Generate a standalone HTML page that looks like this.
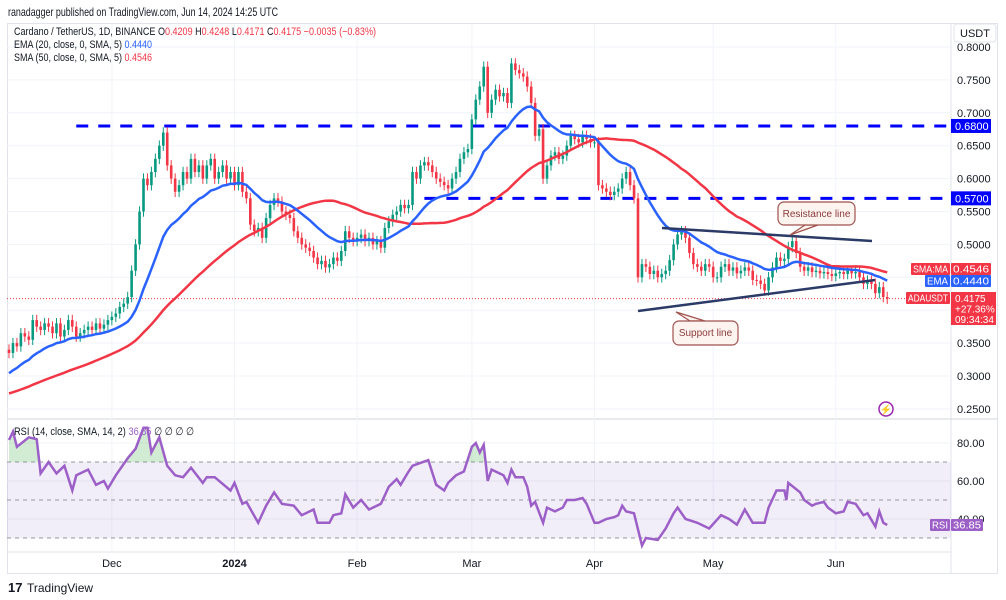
<!DOCTYPE html>
<html><head><meta charset="utf-8"><style>
html,body{margin:0;padding:0;background:#fff;width:1006px;height:600px;overflow:hidden}
svg{display:block;font-family:"Liberation Sans",sans-serif}
</style></head><body>
<svg id="chart" width="1006" height="600" viewBox="0 0 1006 600">
<text x="8" y="16" font-size="12" fill="#131722" textLength="270" lengthAdjust="spacingAndGlyphs">ranadagger published on TradingView.com, Jun 14, 2024 14:25 UTC</text>
<rect x="7.5" y="23.5" width="990" height="550" fill="none" stroke="#e0e3eb"/>
<line x1="951" y1="23" x2="951" y2="573" stroke="#e0e3eb"/>
<line x1="7" y1="419" x2="997" y2="419" stroke="#d1d4dc"/>
<line x1="7" y1="552" x2="951" y2="552" stroke="#e0e3eb"/>
<g id="grid"></g>
<g id="rsiBand"></g>
<g id="levels"></g>
<g id="candles"></g>
<g id="mas"></g>
<g id="rsiG"></g>
<g id="axes"></g>
<line x1="662" y1="228" x2="872" y2="241" stroke="#2b3a67" stroke-width="2.5"/>
<line x1="638" y1="311" x2="875" y2="280" stroke="#2b3a67" stroke-width="2.5"/>
<g>
<path d="M805 225 L790 235 L818 225 Z" fill="#fdf3ef" stroke="#a0524d" stroke-width="1.2"/>
<rect x="778" y="202" width="77" height="23" rx="6" fill="#fdf3ef" stroke="#a0524d" stroke-width="1.2"/>
<text x="816.5" y="217" font-size="10" fill="#8b3a3a" text-anchor="middle">Resistance line</text>
</g>
<g>
<path d="M690 321 L676 312 L705 321 Z" fill="#fdf3ef" stroke="#a0524d" stroke-width="1.2"/>
<rect x="673" y="321" width="65" height="24" rx="6" fill="#fdf3ef" stroke="#a0524d" stroke-width="1.2"/>
<text x="705.5" y="336" font-size="10" fill="#8b3a3a" text-anchor="middle">Support line</text>
</g>
<g font-size="11">
<text x="14" y="35" fill="#131722" textLength="362" lengthAdjust="spacingAndGlyphs">Cardano / TetherUS, 1D, BINANCE <tspan fill="#131722">O</tspan><tspan fill="#f23645">0.4209</tspan> <tspan fill="#131722">H</tspan><tspan fill="#f23645">0.4248</tspan> <tspan fill="#131722">L</tspan><tspan fill="#f23645">0.4171</tspan> <tspan fill="#131722">C</tspan><tspan fill="#f23645">0.4175 −0.0035 (−0.83%)</tspan></text>
<text x="14" y="48" fill="#131722" textLength="138" lengthAdjust="spacingAndGlyphs">EMA (20, close, 0, SMA, 5) <tspan fill="#2962ff">0.4440</tspan></text>
<text x="14" y="61" fill="#131722" textLength="138" lengthAdjust="spacingAndGlyphs">SMA (50, close, 0, SMA, 5) <tspan fill="#f23645">0.4546</tspan></text>
</g>
<text x="14" y="435" font-size="11" fill="#131722" textLength="180" lengthAdjust="spacingAndGlyphs">RSI (14, close, SMA, 14, 2) <tspan fill="#9c5fc7">36.85</tspan> ∅ ∅ ∅ ∅</text>
<g>
<rect x="954" y="24" width="42" height="18" rx="3" fill="#fff" stroke="#e0e3eb"/>
<text x="975" y="37" font-size="11" fill="#131722" text-anchor="middle">USDT</text>
</g>
<g><circle cx="886" cy="409" r="7" fill="none" stroke="#9c27b0" stroke-width="1.5"/><text x="886" y="413" font-size="10" fill="#9c27b0" text-anchor="middle">⚡</text></g>
<g><text x="8" y="592" font-size="13" font-weight="bold" fill="#131722">17</text><text x="27" y="592" font-size="12" fill="#131722">TradingView</text></g>
</svg>
<script>
// ===== data =====
const preCloses=[0.25,0.248,0.252,0.255,0.25,0.248,0.246,0.25,0.252,0.255,0.26,0.262,0.26,0.258,0.26,0.262,0.258,0.255,0.26,0.262,0.258,0.255,0.25,0.252,0.255,0.256,0.254,0.255,0.258,0.26,0.262,0.265,0.27,0.268,0.275,0.285,0.29,0.29,0.288,0.295,0.295,0.30,0.305,0.31,0.305,0.31,0.32,0.325,0.33,0.34];
const closes=[0.335,0.35,0.345,0.365,0.36,0.355,0.385,0.375,0.37,0.38,
0.375,0.365,0.38,0.36,0.37,0.385,0.375,0.36,0.365,0.37,
0.375,0.37,0.38,0.372,0.378,0.385,0.39,0.395,0.405,0.41,
0.42,0.46,0.5,0.55,0.60,0.59,0.61,0.63,0.65,0.67,
0.62,0.60,0.58,0.59,0.61,0.60,0.63,0.61,0.62,0.60,
0.62,0.63,0.60,0.61,0.62,0.60,0.61,0.59,0.61,0.58,
0.57,0.53,0.52,0.525,0.51,0.54,0.56,0.57,0.565,0.55,
0.545,0.54,0.52,0.51,0.50,0.495,0.49,0.48,0.47,0.475,
0.465,0.47,0.48,0.475,0.49,0.52,0.51,0.505,0.51,0.515,
0.505,0.51,0.50,0.505,0.495,0.525,0.535,0.545,0.55,0.56,
0.555,0.56,0.61,0.60,0.62,0.625,0.62,0.61,0.60,0.595,
0.59,0.585,0.60,0.61,0.63,0.64,0.645,0.69,0.72,0.74,
0.77,0.70,0.72,0.735,0.725,0.73,0.715,0.775,0.765,0.76,
0.755,0.74,0.715,0.665,0.675,0.60,0.62,0.635,0.64,0.63,
0.635,0.65,0.665,0.66,0.655,0.665,0.66,0.655,0.655,0.59,
0.585,0.58,0.575,0.58,0.585,0.60,0.61,0.59,0.57,0.45,
0.47,0.466,0.455,0.46,0.45,0.455,0.46,0.476,0.50,0.515,
0.52,0.51,0.487,0.47,0.466,0.46,0.47,0.466,0.45,0.45,
0.466,0.47,0.46,0.465,0.456,0.46,0.465,0.46,0.446,0.445,
0.44,0.43,0.45,0.465,0.48,0.475,0.478,0.496,0.505,0.487,
0.466,0.46,0.465,0.458,0.46,0.456,0.458,0.455,0.452,0.456,
0.458,0.455,0.46,0.456,0.458,0.45,0.44,0.445,0.44,0.426,
0.435,0.42,0.4175];
const rsiDay=[0,1,2,5,7,8,10,12,14,16,17,20,22,24,25,27,30,32,34,35,36,38,40,42,44,46,49,50,52,56,57,59,60,63,65,67,69,72,74,77,78,81,82,84,85,87,89,91,94,96,98,99,101,102,106,108,110,111,113,115,117,118,119,120,121,122,124,125,126,127,128,130,131,132,133,135,136,138,140,141,143,145,146,148,149,151,153,154,155,156,158,160,161,164,166,168,169,171,174,177,180,182,184,186,188,191,192,194,196,196.5,197,200,201,203,204,206,207,209,211,212,214,216,217,219,220,221,222];
const rsiVals=[81.6,86,78,83,82,64,70,64,68,55,63,66,58,60,56,63,72,77,88,88,75,83,68,63,62,67,59,62,62,55,59,48,49,38,47,54,48,47,42,45,38,38,42,43,53,46,50,45,48,57,61,58,65,68,71,58,55,59,63,65,78,80,75,79,60,66,64,63,59,66,62,62,57,47,49,38,46,44,46,50,50,51,48,38,38,40,41,42,47,44,43,26,30,29,35,43,46,40,38,35,42,40,37,45,38,38,46,55,55,50,59,54,50,47,48,49,46,43,44,49,48,42,43,36,44,38,36.85];
const priceTicks=[0.80,0.75,0.70,0.65,0.60,0.55,0.50,0.35,0.30,0.25];
const rsiTicks=[80,60,40];
const monthLabels=["Dec","2024","Feb","Mar","Apr","May","Jun"];
const monthDays=[26,57,88,117,148,178,209];
const hLevels=[0.68,0.57];
const hLevelStart=[17,105];

// ===== scales =====
const X0=9, DX=3.956;
const xDay=i=>X0+i*DX;
const yP=p=>47+(0.8-p)*658;
const yR=v=>443+(80-v)*1.9;
const NS="http://www.w3.org/2000/svg";
function mk(tag,attrs,parent){const e=document.createElementNS(NS,tag);for(const k in attrs)e.setAttribute(k,attrs[k]);parent.appendChild(e);return e;}
const grid=document.getElementById('grid');
for(let v=0.25;v<=0.801;v+=0.05){const l=mk('line',{x1:7,x2:951,y1:yP(v),y2:yP(v),stroke:'#f0f3fa'},grid);

}
[80,60,40].forEach(v=>{const l=mk('line',{x1:7,x2:951,y1:yR(v),y2:yR(v),stroke:'#f0f3fa'},grid);

});
monthDays.forEach(d=>{const l=mk('line',{x1:xDay(d),x2:xDay(d),y1:24,y2:552,stroke:'#f0f3fa'},grid);

});

const band=document.getElementById('rsiBand');
const br=mk('rect',{x:7,y:yR(70),width:944,height:yR(30)-yR(70),fill:'#7e57c2','fill-opacity':0.1},band);


[70,50,30].forEach(v=>{const l=mk('line',{x1:7,x2:951,y1:yR(v),y2:yR(v),stroke:'#9598a1','stroke-dasharray':'4 4'},band);

});

const lv=document.getElementById('levels');
hLevels.forEach((p,k)=>{const l=mk('line',{x1:xDay(hLevelStart[k]),x2:951,y1:yP(p),y2:yP(p),stroke:'#0000ff','stroke-width':3,'stroke-dasharray':'12 10'},lv);


const r=mk('rect',{x:951,y:yP(p)-7,width:40,height:14,fill:'#0000ff'},lv);


const t=mk('text',{x:955,y:yP(p)+4,'font-size':11,fill:'#fff'},lv);t.textContent=p.toFixed(4);

});
const cl=mk('line',{x1:7,x2:951,y1:yP(0.4175),y2:yP(0.4175),stroke:'#f23645','stroke-dasharray':'1 2'},lv);



const cg=document.getElementById('candles');
closes.forEach((c,i)=>{const o=i===0?preCloses[preCloses.length-1]:closes[i-1];
const up=c>=o,col=up?'#089981':'#f23645',x=xDay(i);
const hi=Math.max(o,c)+0.008,lo=Math.min(o,c)-0.008;
const w=mk('line',{x1:x,x2:x,y1:yP(hi),y2:yP(lo),stroke:col,'stroke-width':1},cg);


const top=yP(Math.max(o,c)),h=Math.max(1,yP(Math.min(o,c))-top);
const b=mk('rect',{x:x-1.3,y:top,width:2.6,height:h,fill:col},cg);

});

const all=preCloses.concat(closes);const P=preCloses.length;
let ema=all.slice(0,20).reduce((a,b)=>a+b,0)/20;const emaArr=[];const k=2/21;
for(let j=20;j<all.length;j++){ema=all[j]*k+ema*(1-k);if(j>=P)emaArr.push(ema);}
const smaArr=[];for(let j=P;j<all.length;j++){let s=0;for(let q=j-49;q<=j;q++)s+=all[q];smaArr.push(s/50);}
const mg=document.getElementById('mas');
const pth=arr=>arr.map((v,i)=>(i?'L':'M')+xDay(i).toFixed(1)+' '+yP(v).toFixed(1)).join(' ');
const sm=mk('path',{d:pth(smaArr),fill:'none',stroke:'#f23645','stroke-width':2.5},mg);


const em=mk('path',{d:pth(emaArr),fill:'none',stroke:'#2962ff','stroke-width':2.5},mg);



const rg=document.getElementById('rsiG');
const defs=mk('defs',{},rg);const cp=mk('clipPath',{id:'ab70'},defs);
mk('rect',{x:0,y:419,width:951,height:yR(70)-419},cp);
const fillD='M'+xDay(rsiDay[0])+' '+yR(70)+' '+rsiDay.map((d,i)=>'L'+xDay(d).toFixed(1)+' '+yR(rsiVals[i]).toFixed(1)).join(' ')+' L'+xDay(rsiDay[rsiDay.length-1])+' '+yR(70)+' Z';
const rf=mk('path',{d:fillD,fill:'#4caf50','fill-opacity':0.25,'clip-path':'url(#ab70)'},rg);


const rl=mk('path',{d:rsiDay.map((d,i)=>(i?'L':'M')+xDay(d).toFixed(1)+' '+yR(rsiVals[i]).toFixed(1)).join(' '),fill:'none',stroke:'#9c5fc7','stroke-width':2.5},rg);



const ax=document.getElementById('axes');
priceTicks.forEach(p=>{const t=mk('text',{x:957,y:yP(p)+4,'font-size':11,fill:'#131722'},ax);t.textContent=p.toFixed(4);

});
rsiTicks.forEach(v=>{const t=mk('text',{x:957,y:yR(v)+4,'font-size':11,fill:'#131722'},ax);t.textContent=v.toFixed(2);

});
monthLabels.forEach((m,i)=>{const t=mk('text',{x:xDay(monthDays[i]),y:567,'font-size':11,fill:'#131722','text-anchor':'middle','font-weight':m==='2024'?'bold':'normal'},ax);t.textContent=m;

});
function tag(x,y,w,h,fill,txt,name){const r=mk('rect',{x:x,y:y,width:w,height:h,fill:fill,rx:1},ax);


const t=mk('text',{x:x+w/2,y:y+h/2+3.5,'font-size':10,fill:'#fff','text-anchor':'middle',textLength:w-4,lengthAdjust:'spacingAndGlyphs'},ax);t.textContent=txt;

}
tag(911,263,39,12,'#f23645','SMA:MA','sma-axis-tag');
tag(951,263,40,12,'#f23645','0.4546','sma-axis-value');
tag(925,275,25,12,'#2962ff','EMA','ema-axis-tag');
tag(951,275,40,12,'#2962ff','0.4440','ema-axis-value');
tag(906,292,44,12,'#f23645','ADAUSDT','symbol-axis-tag');
const cb=mk('rect',{x:951,y:292,width:45,height:33,fill:'#f23645'},ax);


['0.4175','+27.36%','09:34:34'].forEach((s,i)=>{const t=mk('text',{x:955,y:302+i*10.5,'font-size':10,fill:'#fff'},ax);t.textContent=s;

});
tag(930,519,20,12,'#9c5fc7','RSI','rsi-axis-tag');
tag(951,519,32,12,'#9c5fc7','36.85','rsi-axis-value');
</script>
</body></html>
